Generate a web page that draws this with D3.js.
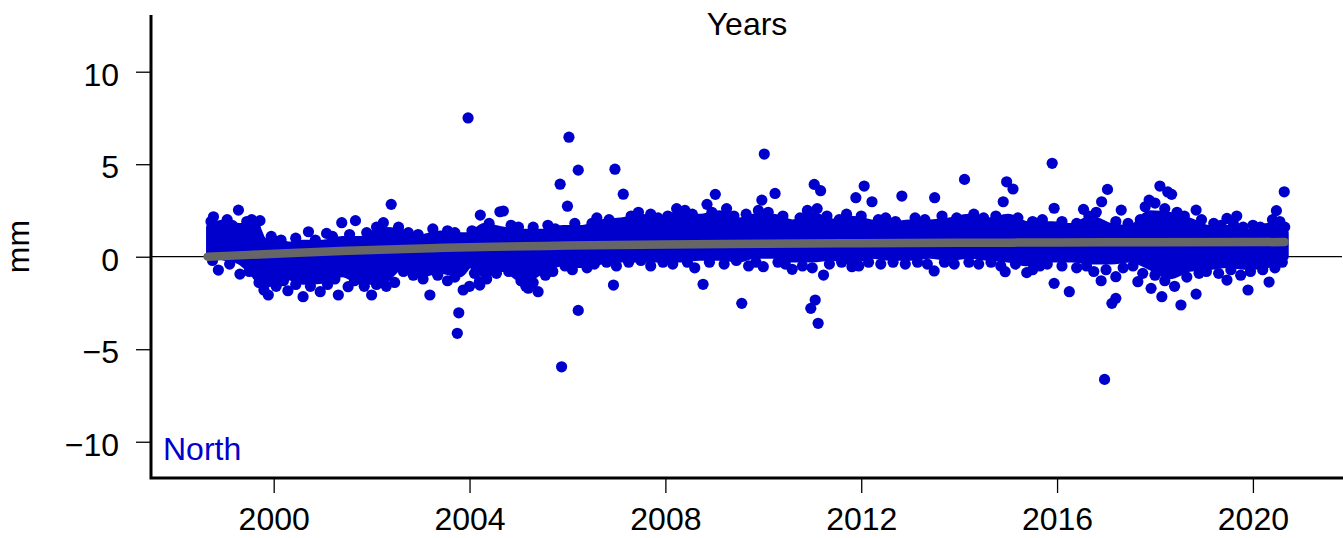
<!DOCTYPE html>
<html>
<head>
<meta charset="utf-8">
<script src="https://cdn.jsdelivr.net/npm/d3@7"></script>
<style>
  html, body { margin: 0; padding: 0; background: #fff; }
  svg { display: block; }
  text { font-family: "Liberation Sans", Arial, Helvetica, sans-serif; }
</style>
</head>
<body>
<svg id="chart" width="1343" height="538"></svg>
<script>
// ---------- data ----------
const yTicks = [-10, -5, 0, 5, 10];
const xTicks = [2000, 2004, 2008, 2012, 2016, 2020];
const xTitle = "Years";
const yTitle = "mm";
const seriesLabel = "North";

// dense core of the daily North series: lower / upper edges (mm)
const bandYears = [1998.7, 1999.0, 1999.3, 1999.6, 1999.8, 2000.0, 2000.3, 2000.6, 2001.0, 2001.4, 2001.8, 2002.2, 2002.6, 2003.0, 2003.4, 2003.8, 2004.0, 2004.3, 2004.7, 2005.1, 2005.5, 2005.9, 2006.3, 2006.7, 2007.1, 2007.5, 2007.9, 2008.3, 2008.7, 2009.1, 2009.5, 2009.8, 2010.2, 2010.6, 2011.0, 2011.4, 2011.8, 2012.2, 2012.6, 2013.0, 2013.4, 2013.8, 2014.2, 2014.6, 2015.0, 2015.4, 2015.9, 2016.3, 2016.7, 2017.1, 2017.5, 2017.9, 2018.3, 2018.7, 2019.1, 2019.5, 2019.9, 2020.3, 2020.65];
const bandUpper = [1.6, 1.8, 1.6, 1.7, 0.8, 0.9, 0.6, 0.7, 0.7, 0.9, 0.9, 1.4, 1.3, 1.0, 1.2, 1.1, 1.1, 1.6, 1.4, 1.3, 1.3, 1.5, 1.5, 1.8, 1.9, 2.1, 1.9, 2.3, 2.1, 2.3, 1.9, 2.1, 2.1, 1.8, 2.2, 1.85, 2.0, 1.8, 1.7, 1.8, 1.8, 1.9, 2.1, 1.9, 2.1, 1.7, 1.7, 1.6, 2.0, 1.6, 1.5, 2.3, 2.2, 1.9, 1.5, 1.5, 1.3, 1.6, 1.3];
const bandLower = [0.1, 0.0, -0.2, -0.9, -1.5, -1.3, -1.05, -1.3, -1.25, -0.9, -1.3, -1.3, -0.5, -0.9, -0.7, -0.9, -0.4, -0.9, -0.6, -1.2, -0.7, -0.3, -0.4, -0.2, -0.1, -0.1, -0.1, -0.1, 0.0, 0.0, -0.1, 0.1, 0.1, -0.1, -0.1, 0.0, -0.2, 0.1, 0.0, 0.0, 0.1, 0.0, 0.1, 0.0, -0.1, -0.3, -0.1, -0.1, -0.2, -0.2, -0.1, -0.5, -1.0, -0.6, -0.5, -0.4, -0.5, -0.4, 0.0];

// individual daily solutions outside / on the edge of the core: [year, mm]
const scatterPoints = [
  [2003.97, 7.5], [2006.03, 6.46], [2006.22, 4.68], [2005.85, 3.92], [2006.97, 4.73], [2007.14, 3.38], [2006.0, 2.73],
  [2006.22, -2.9], [2005.88, -5.95], [2003.78, -3.03], [2003.75, -4.14], [2002.4, 2.83], [1999.28, 2.52],
  [2009.56, -2.52], [2009.02, 3.37], [2008.85, 2.83], [2008.77, -1.49], [2006.94, -1.53], [2005.4, -1.89], [2005.15, -1.6],
  [2005.2, -1.7], [2004.2, -1.35], [2004.0, -1.6], [2004.69, 2.47], [2004.22, 2.25], [2008.23, 2.6],
  [2010.02, 5.55], [2011.04, 3.91], [2011.17, 3.57], [2010.24, 3.42], [2012.06, 3.82], [2011.89, 3.19], [2012.22, 2.97],
  [2012.83, 3.28], [2013.5, 3.19], [2014.11, 4.18], [2014.97, 4.05], [2015.1, 3.66], [2014.9, 2.97], [2009.97, 3.06],
  [2011.06, -2.34], [2010.97, -2.79], [2011.12, -3.6], [2013.49, -0.77], [2014.94, -0.81], [2015.38, -0.86], [2010.59, -0.68],
  [2010.0, -0.54], [2011.23, -0.99], [2011.81, -0.54],
  [2015.9, 5.05], [2017.03, 3.64], [2018.1, 3.82], [2018.34, 3.37], [2018.26, 3.5], [2020.64, 3.51], [2020.48, 2.49],
  [2015.94, 2.62], [2016.54, 2.56], [2016.91, 2.97], [2017.31, 2.52], [2017.88, 3.06], [2018.84, 2.52], [2019.47, 2.07], [2019.67, 2.2],
  [2016.97, -6.63], [2017.12, -2.52], [2017.2, -2.25], [2015.94, -1.44], [2016.25, -1.89], [2016.9, -1.3], [2017.2, -1.08],
  [2017.65, -1.35], [2017.92, -1.71], [2018.14, -2.16], [2018.53, -2.61], [2018.84, -2.02], [2019.9, -1.8], [2020.33, -1.37], [2019.47, -1.26],
  [1998.87, -0.72], [1999.31, -0.94], [1999.89, -2.07], [2000.6, -2.16], [2000.29, -1.84], [2000.95, -1.89], [2001.32, -2.07],
  [2001.52, -1.62], [2002.0, -2.07], [2002.47, -1.39], [2003.19, -2.07], [2003.87, -1.8], [2004.21, -1.53], [2001.39, 1.84],
  [2001.67, 1.95], [2002.24, 1.84], [1998.77, 2.16], [1999.72, 1.95], [2000.71, 1.35], [2001.08, 1.26], [2004.62, 2.43],
  // upper edge
  [1998.72, 1.9], [1998.85, 1.5], [1999.05, 2.0], [1999.15, 1.7], [1999.45, 1.9], [1999.55, 2.0], [1999.62, 1.6], [1999.95, 1.1],
  [2000.15, 0.9], [2000.45, 1.0], [2000.85, 0.9], [2001.2, 1.1], [2001.55, 1.2], [2001.9, 1.3], [2002.1, 1.6], [2002.55, 1.6],
  [2002.75, 1.3], [2002.95, 1.2], [2003.25, 1.5], [2003.55, 1.4], [2003.7, 1.3], [2004.05, 1.4], [2004.4, 1.8], [2004.85, 1.7],
  [2005.0, 1.6], [2005.3, 1.6], [2005.6, 1.7], [2005.75, 1.5], [2006.15, 1.8], [2006.5, 1.8], [2006.6, 2.1], [2006.85, 2.0],
  [2007.3, 2.2], [2007.45, 2.4], [2007.7, 2.3], [2007.85, 2.1], [2008.05, 2.2], [2008.4, 2.5], [2008.55, 2.3], [2008.95, 2.4],
  [2009.25, 2.6], [2009.4, 2.2], [2009.65, 2.3], [2009.9, 2.5], [2010.1, 2.4], [2010.4, 2.2], [2010.75, 2.1], [2010.9, 2.5],
  [2011.1, 2.6], [2011.3, 2.2], [2011.55, 2.0], [2011.7, 2.3], [2012.0, 2.2], [2012.35, 2.0], [2012.5, 2.1], [2012.7, 1.9],
  [2013.1, 2.1], [2013.3, 2.0], [2013.65, 2.2], [2013.95, 2.1], [2014.3, 2.3], [2014.5, 2.1], [2014.75, 2.2], [2015.2, 2.1],
  [2015.5, 1.9], [2015.7, 2.0], [2016.1, 1.9], [2016.4, 1.8], [2016.65, 2.2], [2016.8, 2.4], [2017.2, 1.9], [2017.45, 1.8],
  [2017.7, 2.0], [2017.8, 2.7], [2018.0, 2.9], [2018.2, 2.6], [2018.45, 2.4], [2018.6, 2.2], [2018.95, 2.0], [2019.2, 1.8],
  [2019.35, 1.7], [2019.6, 1.8], [2019.8, 1.6], [2020.0, 1.7], [2020.15, 1.6], [2020.4, 2.0], [2020.55, 1.9], [2020.65, 1.6],
  // lower edge
  [1998.75, -0.2], [1999.1, -0.4], [1999.5, -0.8], [1999.7, -1.4], [1999.8, -1.8], [2000.05, -1.6], [2000.2, -1.3], [2000.45, -1.5],
  [2000.75, -1.6], [2001.1, -1.5], [2001.25, -1.2], [2001.65, -1.3], [2001.85, -1.6], [2002.1, -1.5], [2002.3, -1.6], [2002.65, -0.8],
  [2002.85, -1.0], [2003.05, -1.2], [2003.35, -1.0], [2003.55, -1.3], [2003.7, -1.1], [2004.1, -0.9], [2004.35, -1.2], [2004.55, -0.9],
  [2004.8, -0.8], [2005.05, -1.3], [2005.3, -1.4], [2005.55, -1.0], [2005.7, -0.8], [2005.95, -0.5], [2006.1, -0.7], [2006.4, -0.6],
  [2006.55, -0.4], [2006.8, -0.3], [2007.0, -0.5], [2007.25, -0.3], [2007.5, -0.2], [2007.7, -0.5], [2007.95, -0.3], [2008.15, -0.4],
  [2008.45, -0.3], [2008.6, -0.6], [2008.9, -0.3], [2009.2, -0.4], [2009.45, -0.2], [2009.7, -0.5], [2009.85, -0.3], [2010.3, -0.3],
  [2010.45, -0.4], [2010.8, -0.5], [2011.0, -0.6], [2011.35, -0.4], [2011.6, -0.3], [2011.95, -0.5], [2012.15, -0.3], [2012.4, -0.4],
  [2012.65, -0.3], [2012.9, -0.4], [2013.15, -0.3], [2013.35, -0.4], [2013.7, -0.3], [2013.9, -0.4], [2014.2, -0.3], [2014.4, -0.4],
  [2014.65, -0.3], [2014.85, -0.5], [2015.15, -0.4], [2015.5, -0.7], [2015.65, -0.5], [2015.8, -0.4], [2016.1, -0.5], [2016.4, -0.6],
  [2016.6, -0.5], [2016.75, -0.8], [2017.0, -0.7], [2017.35, -0.6], [2017.55, -0.5], [2017.75, -0.9], [2018.0, -1.0], [2018.2, -1.3],
  [2018.4, -1.6], [2018.65, -1.1], [2018.9, -0.9], [2019.05, -0.8], [2019.3, -0.9], [2019.55, -0.7], [2019.75, -1.0], [2019.95, -0.8],
  [2020.2, -0.7], [2020.45, -0.6], [2020.6, -0.3]
];

// fitted trend (grey line)
const trendYears = [1998.65, 1999.5, 2000.5, 2001.5, 2002.5, 2003.5, 2004.5, 2006.0, 2008.0, 2010.0, 2012.0, 2014.0, 2016.0, 2018.0, 2020.65];
const trendValues = [0.00, 0.10, 0.22, 0.32, 0.41, 0.48, 0.54, 0.60, 0.66, 0.70, 0.73, 0.75, 0.77, 0.78, 0.79];

// ---------- drawing ----------
const plot = { left: 151, right: 1343, top: 15, bottom: 478 };
const blue = "#0000CD";
const grey = "#666666";
const fontSize = 32;

const x = d3.scaleLinear().domain([1997.494, 2021.84]).range([plot.left, plot.right]);
const y = d3.scaleLinear().domain([-11.96, 13.065]).range([plot.bottom, plot.top]);

const svg = d3.select("#chart");

// zero reference line
svg.append("line")
  .attr("x1", plot.left).attr("x2", plot.right - 1)
  .attr("y1", y(0)).attr("y2", y(0))
  .attr("stroke", "#000").attr("stroke-width", 1.2);

// dense core of points
const area = d3.area()
  .x((d, i) => x(bandYears[i]))
  .y0((d, i) => y(bandLower[i]))
  .y1((d, i) => y(bandUpper[i]))
  .curve(d3.curveMonotoneX);
svg.append("path")
  .datum(bandYears)
  .attr("d", area)
  .attr("fill", blue)
  .attr("stroke", blue)
  .attr("stroke-width", 8)
  .attr("stroke-linejoin", "round");

// individual points
svg.append("g").selectAll("circle")
  .data(scatterPoints)
  .join("circle")
  .attr("cx", d => x(d[0]))
  .attr("cy", d => y(d[1]))
  .attr("r", 5.6)
  .attr("fill", blue);

// trend line
const line = d3.line()
  .x((d, i) => x(trendYears[i]))
  .y((d, i) => y(trendValues[i]))
  .curve(d3.curveMonotoneX);
svg.append("path")
  .datum(trendYears)
  .attr("d", line)
  .attr("fill", "none")
  .attr("stroke", grey)
  .attr("stroke-width", 8.5)
  .attr("stroke-linecap", "round");

// axes
const yAxis = d3.axisLeft(y).tickValues(yTicks).tickSize(15).tickPadding(17)
  .tickFormat(d => d3.format("d")(d).replace("-", "\u2212"));
const gy = svg.append("g").attr("transform", `translate(${plot.left},0)`).call(yAxis);
gy.select(".domain").remove();
gy.selectAll(".tick line").attr("stroke", "#000").attr("stroke-width", 1.3);
gy.selectAll(".tick text").attr("font-size", fontSize).attr("font-family", null).attr("fill", "#000").attr("dy", "0.42em");

const xAxis = d3.axisBottom(x).tickValues(xTicks).tickSize(15).tickPadding(14).tickFormat(d3.format("d"));
const gx = svg.append("g").attr("transform", `translate(0,${plot.bottom})`).call(xAxis);
gx.select(".domain").remove();
gx.selectAll(".tick line").attr("stroke", "#000").attr("stroke-width", 1.3);
gx.selectAll(".tick text").attr("font-size", fontSize).attr("font-family", null).attr("fill", "#000");

// axis lines (L-shaped frame)
svg.append("path")
  .attr("d", `M${plot.left},${plot.top}V${plot.bottom}H${plot.right}`)
  .attr("fill", "none").attr("stroke", "#000").attr("stroke-width", 3);

// titles
svg.append("text")
  .attr("x", (plot.left + plot.right) / 2).attr("y", 35)
  .attr("text-anchor", "middle").attr("font-size", fontSize).attr("fill", "#000")
  .text(xTitle);

svg.append("text")
  .attr("transform", `translate(28.5,${(plot.top + plot.bottom) / 2}) rotate(-90)`)
  .attr("text-anchor", "middle").attr("font-size", fontSize).attr("fill", "#000")
  .text(yTitle);

svg.append("text")
  .attr("x", 163).attr("y", 460)
  .attr("font-size", fontSize).attr("fill", blue)
  .text(seriesLabel);
</script>
</body>
</html>
